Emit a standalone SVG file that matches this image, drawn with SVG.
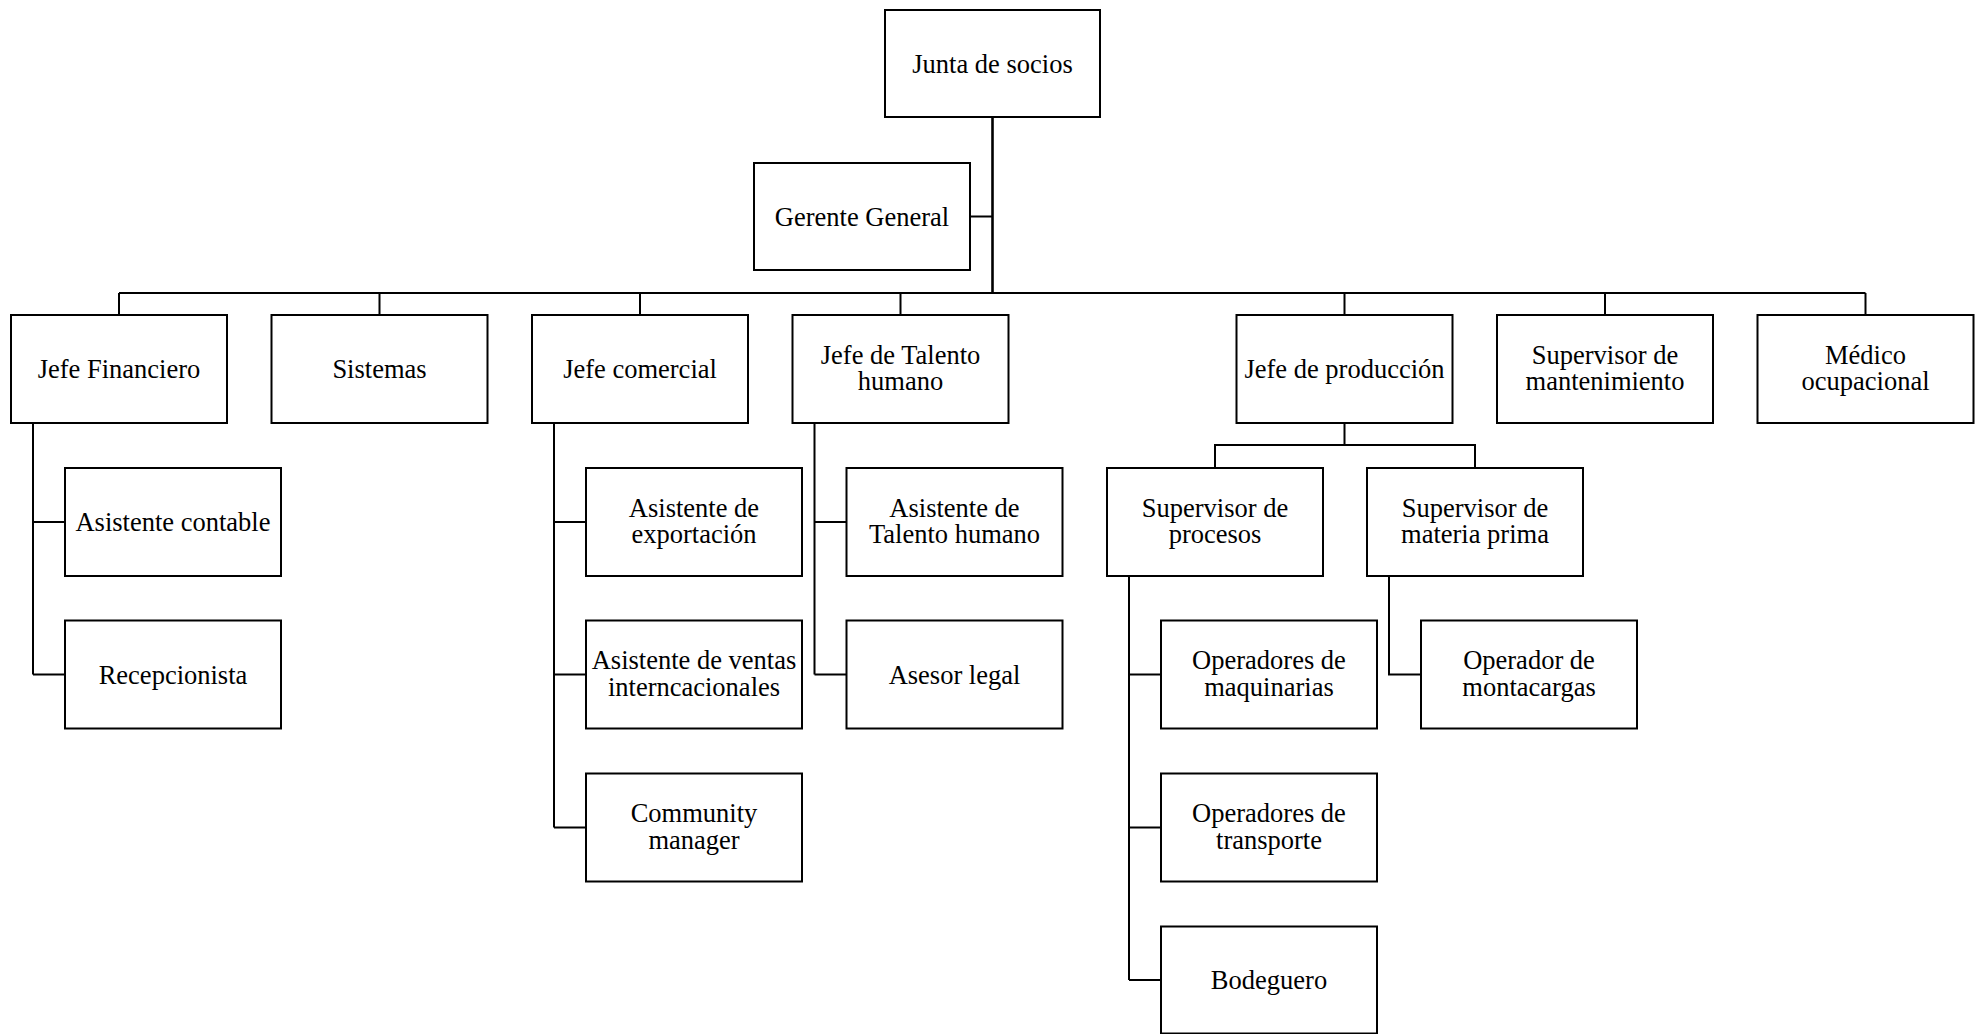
<svg xmlns="http://www.w3.org/2000/svg" width="1984" height="1034" viewBox="0 0 1984 1034">
<style>
.box{fill:#fff;stroke:#000;stroke-width:2}
.lbl{font-family:"Liberation Serif","Times New Roman",serif;font-size:26.5px;text-anchor:middle;fill:#000}
.conn{stroke:#000;stroke-width:2;fill:none}
.trunk{stroke:#000;stroke-width:2.6;fill:none}
</style>
<rect width="1984" height="1034" fill="#fff"/>
<g id="connectors">
<path class="trunk" d="M992.5 117 V293"/>
<path class="conn" d="M970 216.5 H992.5"/>
<path class="conn" d="M119 293 H1865.5"/>
<path class="conn" d="M119 293 V315 M379.5 293 V315 M640 293 V315 M900.5 293 V315 M1344.5 293 V315 M1605 293 V315 M1865.5 293 V315"/>
<path class="conn" d="M33 423 V674.5 M33 522 H65 M33 674.5 H65"/>
<path class="conn" d="M554 423 V827.5 M554 522 H586 M554 674.5 H586 M554 827.5 H586"/>
<path class="conn" d="M814.5 423 V674.5 M814.5 522 H846.5 M814.5 674.5 H846.5"/>
<path class="conn" d="M1344.5 423 V445 M1215 468 V445 H1475 V468"/>
<path class="conn" d="M1129 576 V980 M1129 674.5 H1161 M1129 827.5 H1161 M1129 980 H1161"/>
<path class="conn" d="M1389 576 V674.5 H1421"/>
</g>
<g id="junta"><rect class="box" x="885" y="10" width="215" height="107"/><text class="lbl" x="992.5" y="72.5">Junta de socios</text></g>
<g id="gerente"><rect class="box" x="754" y="163" width="216" height="107"/><text class="lbl" x="862" y="225.5">Gerente General</text></g>
<g id="jefe-financiero"><rect class="box" x="11" y="315" width="216" height="108"/><text class="lbl" x="119" y="378">Jefe Financiero</text></g>
<g id="sistemas"><rect class="box" x="271.5" y="315" width="216" height="108"/><text class="lbl" x="379.5" y="378">Sistemas</text></g>
<g id="jefe-comercial"><rect class="box" x="532" y="315" width="216" height="108"/><text class="lbl" x="640" y="378">Jefe comercial</text></g>
<g id="jefe-talento"><rect class="box" x="792.5" y="315" width="216" height="108"/><text class="lbl" x="900.5" y="363.5">Jefe de Talento</text><text class="lbl" x="900.5" y="390">humano</text></g>
<g id="jefe-produccion"><rect class="box" x="1236.5" y="315" width="216" height="108"/><text class="lbl" x="1344.5" y="378">Jefe de producción</text></g>
<g id="sup-mantenimiento"><rect class="box" x="1497" y="315" width="216" height="108"/><text class="lbl" x="1605" y="363.5">Supervisor de</text><text class="lbl" x="1605" y="390">mantenimiento</text></g>
<g id="medico"><rect class="box" x="1757.5" y="315" width="216" height="108"/><text class="lbl" x="1865.5" y="363.5">Médico</text><text class="lbl" x="1865.5" y="390">ocupacional</text></g>
<g id="asist-contable"><rect class="box" x="65" y="468" width="216" height="108"/><text class="lbl" x="173" y="531">Asistente contable</text></g>
<g id="asist-exportacion"><rect class="box" x="586" y="468" width="216" height="108"/><text class="lbl" x="694" y="516.5">Asistente de</text><text class="lbl" x="694" y="543">exportación</text></g>
<g id="asist-talento"><rect class="box" x="846.5" y="468" width="216" height="108"/><text class="lbl" x="954.5" y="516.5">Asistente de</text><text class="lbl" x="954.5" y="543">Talento humano</text></g>
<g id="sup-procesos"><rect class="box" x="1107" y="468" width="216" height="108"/><text class="lbl" x="1215" y="516.5">Supervisor de</text><text class="lbl" x="1215" y="543">procesos</text></g>
<g id="sup-materia"><rect class="box" x="1367" y="468" width="216" height="108"/><text class="lbl" x="1475" y="516.5">Supervisor de</text><text class="lbl" x="1475" y="543">materia prima</text></g>
<g id="recepcionista"><rect class="box" x="65" y="620.5" width="216" height="108"/><text class="lbl" x="173" y="683.5">Recepcionista</text></g>
<g id="asist-ventas"><rect class="box" x="586" y="620.5" width="216" height="108"/><text class="lbl" x="694" y="669">Asistente de ventas</text><text class="lbl" x="694" y="695.5">interncacionales</text></g>
<g id="asesor-legal"><rect class="box" x="846.5" y="620.5" width="216" height="108"/><text class="lbl" x="954.5" y="683.5">Asesor legal</text></g>
<g id="op-maquinarias"><rect class="box" x="1161" y="620.5" width="216" height="108"/><text class="lbl" x="1269" y="669">Operadores de</text><text class="lbl" x="1269" y="695.5">maquinarias</text></g>
<g id="op-montacargas"><rect class="box" x="1421" y="620.5" width="216" height="108"/><text class="lbl" x="1529" y="669">Operador de</text><text class="lbl" x="1529" y="695.5">montacargas</text></g>
<g id="community"><rect class="box" x="586" y="773.5" width="216" height="108"/><text class="lbl" x="694" y="822">Community</text><text class="lbl" x="694" y="848.5">manager</text></g>
<g id="op-transporte"><rect class="box" x="1161" y="773.5" width="216" height="108"/><text class="lbl" x="1269" y="822">Operadores de</text><text class="lbl" x="1269" y="848.5">transporte</text></g>
<g id="bodeguero"><rect class="box" x="1161" y="926.5" width="216" height="107"/><text class="lbl" x="1269" y="989">Bodeguero</text></g>
</svg>
